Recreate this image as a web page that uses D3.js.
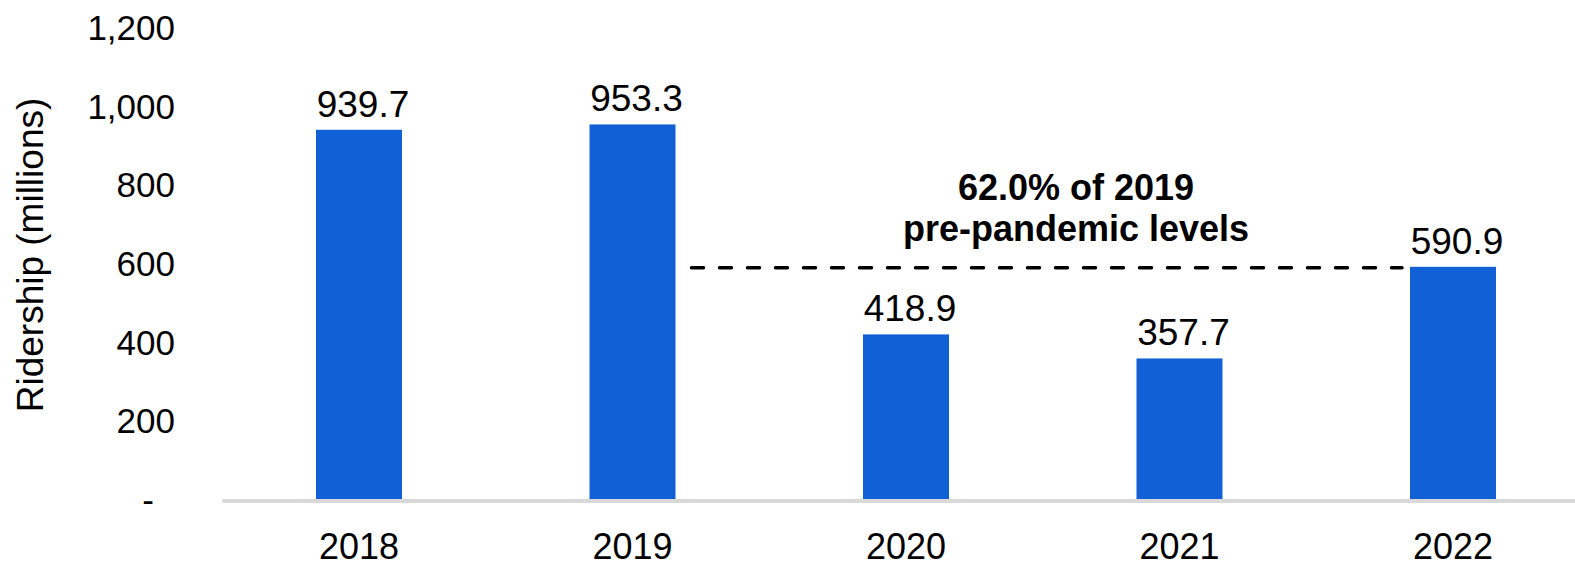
<!DOCTYPE html>
<html>
<head>
<meta charset="utf-8">
<script src="https://cdn.jsdelivr.net/npm/d3@7"></script>
<style>
  html, body { margin: 0; padding: 0; background: #fff; }
  svg { display: block; font-family: "Liberation Sans", Arial, sans-serif; }
</style>
</head>
<body>
<svg id="chart" width="1575" height="567"></svg>
<script>
// Annual ridership, millions
const years = ["2018", "2019", "2020", "2021", "2022"];
const ridership = [939.7, 953.3, 418.9, 357.7, 590.9];
const yTicks = [0, 200, 400, 600, 800, 1000, 1200];
const noteLines = ["62.0% of 2019", "pre-pandemic levels"];

const svg = d3.select("#chart");
const barColor = "#1260d5";

const x = d3.scaleBand()
  .domain(years)
  .range([222.25, 1589.75])
  .paddingInner(0.6856)
  .paddingOuter(0.3428);

const y = d3.scaleLinear()
  .domain([0, 1200])
  .range([499, 27.5]);

// Y axis labels (no line, no ticks)
const yAxis = d3.axisLeft(y)
  .tickValues(yTicks)
  .tickSize(0)
  .tickPadding(0)
  .tickFormat(d => d === 0 ? "-" : d3.format(",")(d));

const yg = svg.append("g")
  .attr("transform", "translate(175,0)")
  .call(yAxis);
yg.select(".domain").remove();
yg.selectAll("text")
  .attr("font-size", 35)
  .attr("fill", "#000")
  .attr("font-family", "Liberation Sans, Arial, sans-serif")
  .attr("dy", "0.35em")
  .attr("x", d => d === 0 ? -21 : 0);

// Y axis title
svg.append("text")
  .attr("transform", "translate(43,255) rotate(-90)")
  .attr("text-anchor", "middle")
  .attr("font-size", 37)
  .attr("fill", "#000")
  .text("Ridership (millions)");

// Bars
svg.append("g").selectAll("rect")
  .data(years)
  .join("rect")
  .attr("x", d => x(d))
  .attr("width", x.bandwidth())
  .attr("y", (d, i) => y(ridership[i]))
  .attr("height", (d, i) => y(0) - y(ridership[i]))
  .attr("fill", barColor);

// Baseline
svg.append("line")
  .attr("x1", x.range()[0])
  .attr("x2", x.range()[1])
  .attr("y1", y(0) + 2)
  .attr("y2", y(0) + 2)
  .attr("stroke", "#d9d9d9")
  .attr("stroke-width", 4);

// Category labels
const xAxis = d3.axisBottom(x).tickSize(0).tickPadding(0);
const xg = svg.append("g")
  .attr("transform", "translate(0,559)")
  .call(xAxis);
xg.select(".domain").remove();
xg.selectAll("text")
  .attr("font-size", 36)
  .attr("fill", "#000")
  .attr("font-family", "Liberation Sans, Arial, sans-serif")
  .attr("dy", 0);

// Value labels
svg.append("g").selectAll("text")
  .data(years)
  .join("text")
  .attr("x", d => x(d) + x.bandwidth() / 2 + 4)
  .attr("y", (d, i) => y(ridership[i]) - 13)
  .attr("text-anchor", "middle")
  .attr("font-size", 37)
  .attr("fill", "#000")
  .text((d, i) => ridership[i].toFixed(1));

// Dashed reference at the 2022 level, spanning from 2019 to 2022
const lastVal = ridership[ridership.length - 1];
svg.append("line")
  .attr("x1", x("2019") + x.bandwidth() + 16)
  .attr("x2", x("2022") - 8)
  .attr("y1", y(lastVal) + 1)
  .attr("y2", y(lastVal) + 1)
  .attr("stroke", "#000")
  .attr("stroke-width", 3.5)
  .attr("stroke-linecap", "round")
  .attr("stroke-dasharray", "12,16");

// Annotation
svg.append("g").selectAll("text")
  .data(noteLines)
  .join("text")
  .attr("x", 1076)
  .attr("y", (d, i) => 200 + i * 41)
  .attr("text-anchor", "middle")
  .attr("font-size", 36)
  .attr("font-weight", "bold")
  .attr("fill", "#000")
  .text(d => d);
</script>
</body>
</html>
